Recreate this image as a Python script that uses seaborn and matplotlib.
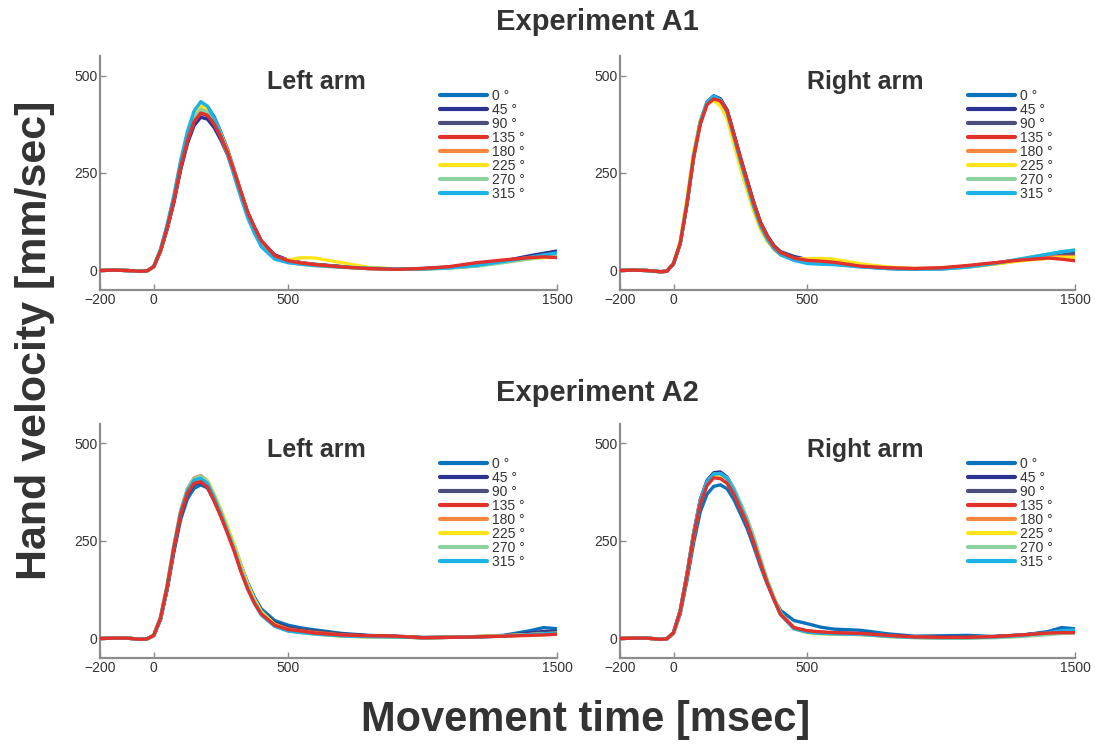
import matplotlib
matplotlib.use("Agg")
import matplotlib.pyplot as plt
import numpy as np
import pandas as pd
import seaborn as sns

# time grid [msec] shared by all panels
T = [-200, -150, -100, -50, -25, 0, 25, 50, 75, 100, 125, 150, 175, 200, 225, 250,
     275, 300, 325, 350, 375, 400, 450, 500, 550, 600, 700, 800, 900, 1000, 1100,
     1200, 1300, 1400, 1450, 1500]

DIRS = ["0 °", "45 °", "90 °", "135 °", "180 °", "225 °", "270 °", "315 °"]
COLORS = ["#0a72bd", "#2e3192", "#4d4d7a", "#e2312b", "#f7883f", "#ffe51a",
          "#8fd19e", "#1cb2e6"]

# Experiment A1, left arm  (mm/sec)
A1_LEFT = {
    "0 °":   [0, 1, 0, -2, -1, 10, 52, 114, 188, 275, 350, 402, 428, 420, 394, 354, 310, 256, 200, 146, 106, 72, 36, 24, 19, 15, 10, 6, 4, 4, 7, 12, 22, 35, 42, 48],
    "45 °":  [0, 1, 0, -2, -1, 10, 49, 106, 175, 258, 325, 372, 393, 388, 366, 334, 296, 248, 198, 148, 110, 76, 40, 27, 20, 16, 10, 6, 4, 5, 8, 14, 24, 38, 44, 50],
    "90 °":  [0, 1, 0, -2, -1, 10, 50, 108, 178, 262, 330, 380, 403, 397, 374, 340, 300, 250, 199, 148, 110, 76, 39, 26, 19, 15, 9, 5, 4, 5, 9, 16, 25, 34, 38, 42],
    "135 °": [0, 1, 0, -2, -1, 10, 50, 110, 180, 265, 333, 382, 404, 398, 375, 342, 302, 252, 200, 148, 110, 76, 38, 25, 19, 15, 9, 5, 3, 5, 10, 20, 27, 33, 35, 33],
    "180 °": [0, 1, 0, -2, -1, 10, 51, 112, 185, 271, 342, 394, 418, 411, 387, 350, 306, 254, 200, 147, 107, 73, 37, 25, 20, 15, 9, 5, 3, 4, 8, 16, 25, 32, 36, 38],
    "225 °": [0, 1, 0, -2, -1, 11, 53, 115, 189, 276, 347, 399, 423, 414, 388, 349, 302, 249, 195, 143, 103, 68, 34, 27, 33, 32, 20, 8, 4, 4, 7, 14, 22, 30, 33, 34],
    "270 °": [0, 1, 0, -2, -1, 10, 51, 112, 184, 270, 341, 392, 413, 405, 381, 343, 298, 246, 193, 142, 102, 67, 33, 21, 16, 12, 8, 5, 3, 3, 6, 11, 20, 30, 35, 40],
    "315 °": [0, 1, 0, -2, -1, 10, 54, 118, 193, 282, 356, 409, 433, 421, 390, 347, 297, 241, 185, 134, 95, 61, 29, 20, 16, 13, 9, 6, 4, 4, 7, 13, 23, 34, 40, 45],
}

# Experiment A1, right arm
A1_RIGHT = {
    "0 °":   [0, 1, 0, -3, -2, 17, 70, 172, 295, 382, 432, 448, 440, 410, 348, 284, 224, 165, 116, 82, 58, 43, 28, 21, 19, 17, 10, 5, 3, 4, 9, 17, 27, 38, 44, 48],
    "45 °":  [0, 1, 0, -3, -2, 17, 69, 170, 292, 380, 430, 447, 440, 412, 352, 290, 232, 174, 124, 90, 64, 48, 36, 28, 24, 20, 11, 6, 4, 5, 10, 18, 28, 38, 42, 46],
    "90 °":  [0, 1, 0, -3, -2, 17, 69, 169, 290, 378, 428, 445, 438, 410, 350, 288, 230, 172, 122, 88, 63, 47, 34, 27, 23, 20, 11, 6, 4, 6, 11, 19, 28, 36, 40, 43],
    "135 °": [0, 1, 0, -3, -2, 18, 70, 170, 290, 375, 425, 440, 435, 410, 350, 288, 230, 172, 122, 88, 62, 46, 32, 26, 24, 21, 11, 7, 5, 7, 13, 20, 27, 32, 29, 25],
    "180 °": [0, 1, 0, -3, -2, 18, 72, 175, 296, 380, 428, 440, 430, 402, 340, 278, 220, 163, 115, 82, 58, 42, 30, 27, 27, 24, 14, 8, 5, 6, 11, 19, 28, 34, 36, 36],
    "225 °": [0, 1, 0, -3, -2, 19, 76, 185, 305, 385, 428, 436, 422, 390, 325, 262, 205, 150, 105, 75, 54, 40, 30, 30, 31, 29, 17, 9, 5, 5, 9, 16, 25, 31, 33, 33],
    "270 °": [0, 1, 0, -3, -2, 18, 71, 173, 294, 380, 430, 445, 436, 406, 345, 282, 224, 167, 118, 84, 60, 44, 30, 22, 20, 18, 11, 6, 3, 4, 9, 18, 30, 42, 48, 53],
    "315 °": [0, 1, 0, -3, -2, 18, 70, 172, 294, 381, 431, 447, 438, 406, 344, 280, 220, 162, 114, 80, 56, 40, 26, 18, 16, 15, 9, 5, 3, 4, 9, 18, 30, 42, 48, 52],
}

# Experiment A2, left arm
A2_LEFT = {
    "0 °":   [0, 1, 1, -2, -1, 7, 48, 125, 222, 305, 358, 385, 394, 386, 358, 322, 282, 238, 188, 142, 105, 76, 46, 34, 27, 22, 13, 8, 6, 3, 3, 5, 8, 20, 28, 25],
    "45 °":  [0, 1, 1, -2, -1, 8, 50, 130, 228, 314, 368, 395, 400, 387, 353, 314, 272, 228, 178, 133, 96, 68, 40, 28, 22, 18, 11, 7, 5, 2, 3, 4, 7, 14, 18, 18],
    "90 °":  [0, 1, 1, -2, -1, 8, 50, 131, 230, 316, 370, 397, 402, 389, 355, 316, 273, 228, 177, 132, 95, 66, 38, 27, 23, 19, 11, 7, 5, 2, 3, 4, 7, 12, 15, 16],
    "135 °": [0, 1, 1, -2, -1, 8, 52, 133, 232, 318, 372, 398, 402, 388, 352, 312, 268, 222, 170, 126, 90, 63, 34, 23, 19, 14, 9, 7, 6, 2, 3, 4, 6, 8, 9, 11],
    "180 °": [0, 1, 1, -2, -1, 9, 55, 138, 240, 328, 384, 412, 418, 404, 368, 327, 282, 235, 182, 135, 97, 67, 36, 24, 19, 15, 9, 6, 5, 2, 3, 5, 7, 10, 12, 14],
    "225 °": [0, 1, 1, -2, -1, 8, 52, 134, 236, 324, 380, 408, 415, 404, 370, 330, 287, 240, 187, 138, 100, 69, 36, 22, 16, 12, 6, 4, 4, 2, 3, 5, 7, 10, 12, 13],
    "270 °": [0, 1, 1, -2, -1, 8, 53, 136, 238, 326, 382, 410, 416, 402, 366, 325, 280, 233, 180, 133, 95, 65, 33, 20, 15, 11, 6, 4, 4, 2, 3, 4, 6, 9, 11, 12],
    "315 °": [0, 1, 1, -2, -1, 8, 53, 135, 236, 324, 379, 406, 411, 397, 360, 318, 272, 225, 172, 126, 89, 60, 31, 19, 15, 12, 7, 5, 4, 2, 3, 4, 6, 10, 12, 14],
}

# Experiment A2, right arm
A2_RIGHT = {
    "0 °":   [0, 1, 1, -2, -1, 13, 62, 148, 245, 325, 370, 390, 394, 384, 357, 320, 282, 235, 185, 140, 102, 72, 46, 38, 29, 24, 21, 12, 6, 7, 8, 5, 8, 18, 28, 25],
    "45 °":  [0, 1, 1, -2, -1, 15, 72, 165, 270, 357, 405, 425, 427, 414, 385, 345, 304, 254, 198, 146, 102, 62, 26, 18, 15, 14, 12, 7, 4, 3, 3, 5, 9, 15, 18, 18],
    "90 °":  [0, 1, 1, -2, -1, 15, 71, 163, 267, 353, 401, 421, 422, 410, 382, 343, 302, 252, 197, 146, 102, 62, 27, 19, 16, 14, 12, 7, 4, 3, 3, 5, 9, 14, 17, 17],
    "135 °": [0, 1, 1, -2, -1, 15, 70, 160, 262, 345, 392, 412, 410, 398, 370, 332, 294, 245, 192, 142, 100, 62, 28, 20, 17, 15, 13, 8, 4, 3, 3, 5, 9, 14, 15, 15],
    "180 °": [0, 1, 1, -2, -1, 15, 70, 162, 266, 351, 399, 420, 420, 408, 381, 344, 304, 255, 200, 148, 104, 64, 27, 18, 15, 13, 11, 6, 3, 2, 2, 4, 8, 13, 16, 17],
    "225 °": [0, 1, 1, -2, -1, 14, 69, 160, 264, 350, 398, 418, 419, 408, 383, 347, 308, 258, 203, 150, 105, 64, 25, 15, 12, 11, 10, 6, 3, 2, 2, 4, 7, 12, 15, 16],
    "270 °": [0, 1, 1, -2, -1, 14, 69, 161, 265, 352, 401, 421, 423, 412, 385, 348, 308, 259, 204, 151, 106, 65, 26, 17, 14, 12, 10, 5, 2, 1, 1, 2, 5, 10, 13, 14],
    "315 °": [0, 1, 1, -2, -1, 15, 71, 163, 268, 354, 402, 422, 423, 410, 380, 340, 298, 248, 194, 143, 100, 61, 25, 16, 13, 12, 11, 6, 3, 2, 2, 4, 8, 15, 20, 22],
}

TXT = "#333333"
SPINE = "#8c8c8c"

sns.set_theme(style="white")
plt.rcParams["font.family"] = ["Liberation Sans", "DejaVu Sans"]


def to_long(panel):
    rows = []
    for d in DIRS:
        for t, v in zip(T, panel[d]):
            rows.append({"t": t, "v": v, "dir": d})
    return pd.DataFrame(rows)


def draw_panel(ax, panel, title, title_x, leg_x, leg_y):
    df = to_long(panel)
    sns.lineplot(data=df, x="t", y="v", hue="dir", hue_order=DIRS,
                 palette=COLORS, linewidth=2.4, ax=ax, legend=True)
    # 135 ° trace sits on top in the original
    ax.lines[3].set_zorder(5)
    for ln in ax.lines:
        ln.set_solid_capstyle("round")
        ln.set_solid_joinstyle("round")

    ax.set_xlim(-200, 1500)
    ax.set_ylim(-50, 550)
    ax.set_xticks([-200, 0, 500, 1500])
    ax.set_yticks([0, 250, 500])
    ax.set_xlabel("")
    ax.set_ylabel("")
    ax.tick_params(direction="in", length=4, width=1, colors=SPINE,
                   labelcolor=TXT, labelsize=10, pad=2, bottom=True, left=True)
    for s in ("top", "right"):
        ax.spines[s].set_visible(False)
    for s in ("left", "bottom"):
        ax.spines[s].set_color(SPINE)
        ax.spines[s].set_linewidth(1.6)

    ax.text(title_x, 0.889, title, transform=ax.transAxes, ha="center",
            va="center", fontsize=18, fontweight="bold", color=TXT)

    handles, labels = ax.get_legend_handles_labels()
    leg = ax.legend(handles, labels, loc="upper left",
                    bbox_to_anchor=(leg_x, leg_y), frameon=False,
                    fontsize=10, handlelength=3.4, handletextpad=0.35,
                    labelspacing=0.0, borderpad=0, borderaxespad=0)
    for h in leg.get_lines():
        h.set_linewidth(3)
    for t in leg.get_texts():
        t.set_color(TXT)


fig = plt.figure(figsize=(11.01, 7.49), dpi=100)
W, H = 1101, 749


def axes_px(x0, x1, ytop, ybot):
    return fig.add_axes([x0 / W, 1 - ybot / H, (x1 - x0) / W, (ybot - ytop) / H])


ax_a1l = axes_px(100, 557, 56, 290)
ax_a1r = axes_px(620, 1075, 56, 290)
ax_a2l = axes_px(100, 557, 424, 658)
ax_a2r = axes_px(620, 1075, 424, 658)

draw_panel(ax_a1l, A1_LEFT, "Left arm", 0.473, 0.744, 0.858)
draw_panel(ax_a1r, A1_RIGHT, "Right arm", 0.538, 0.765, 0.858)
draw_panel(ax_a2l, A2_LEFT, "Left arm", 0.473, 0.744, 0.858)
draw_panel(ax_a2r, A2_RIGHT, "Right arm", 0.538, 0.765, 0.858)

fig.text(597 / W, 1 - 22 / H, "Experiment A1", ha="center", va="center",
         fontsize=21, fontweight="bold", color=TXT)
fig.text(597 / W, 1 - 393 / H, "Experiment A2", ha="center", va="center",
         fontsize=21, fontweight="bold", color=TXT)
fig.text(35 / W, 1 - 340 / H, "Hand velocity [mm/sec]", ha="center",
         va="center", rotation=90, fontsize=31, fontweight="bold", color=TXT)
fig.text(586 / W, 1 - 720 / H, "Movement time [msec]", ha="center",
         va="center", fontsize=30, fontweight="bold", color=TXT)

fig.savefig("out.png", dpi=100, facecolor="white")
